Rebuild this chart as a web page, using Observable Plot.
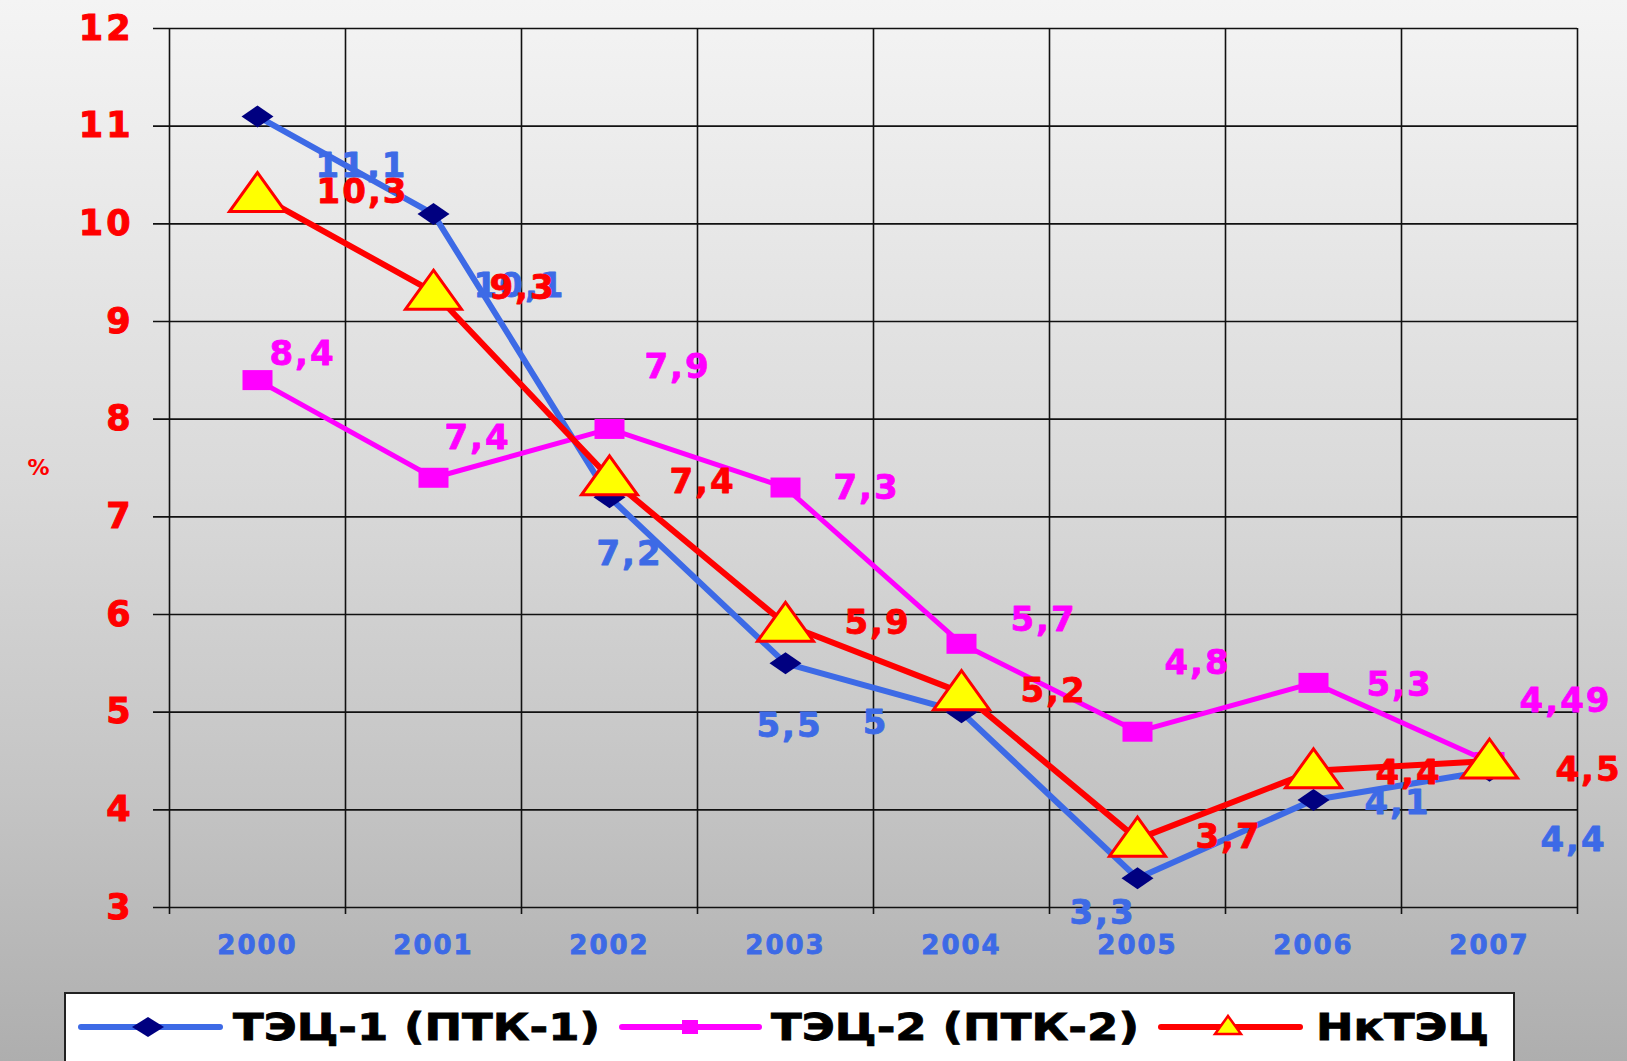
<!DOCTYPE html>
<html><head><meta charset="utf-8">
<script src="https://cdn.jsdelivr.net/npm/d3@7"></script>
<script src="https://cdn.jsdelivr.net/npm/@observablehq/plot@0.6"></script>
<style>
html,body{margin:0;padding:0;width:1627px;height:1061px;overflow:hidden;}
body{background:linear-gradient(to bottom,#f4f4f4 0%,#dadada 45%,#c4c4c4 75%,#aeaeae 100%);font-family:"DejaVu Sans",sans-serif;position:relative;}
#chart{position:absolute;left:0;top:0;}
#legend{position:absolute;left:0;top:0;}
#chart g[aria-label="y-axis tick label"] text{letter-spacing:3px;stroke:#ff0000;stroke-width:1px;paint-order:stroke;}
#chart g[aria-label="x-axis tick label"] text{letter-spacing:2px;stroke:#3d6ae6;stroke-width:0.8px;paint-order:stroke;}
#chart g[aria-label="text"] text{letter-spacing:2px;}
</style></head><body>
<div id="chart"></div>
<svg id="legend" width="1627" height="1061"></svg>
<script>
// ---- data ----
const years = [2000, 2001, 2002, 2003, 2004, 2005, 2006, 2007];
const tec1 = [11.1, 10.1, 7.2, 5.5, 5.0, 3.3, 4.1, 4.4];
const tec2 = [8.4, 7.4, 7.9, 7.3, 5.7, 4.8, 5.3, 4.49];
const nktec = [10.3, 9.3, 7.4, 5.9, 5.2, 3.7, 4.4, 4.5];
const seriesNames = ["ТЭЦ-1 (ПТК-1)", "ТЭЦ-2 (ПТК-2)", "НкТЭЦ"];
const yTicks = [3, 4, 5, 6, 7, 8, 9, 10, 11, 12];
const yUnit = "%";

// ---- label layout (pixel offsets of data labels) ----
const tec1LabelOffsets = [[104,50],[86,72],[20,57],[4,63],[-86,11],[-35,35],[84,3],[84,69]];
const tec2LabelOffsets = [[45,-26],[44,-40],[68,-62],[81,1],[82,-24],[60,-69],[86,2],[76,-61]];
const nktecLabelOffsets = [[105,-2],[89,-4],[93,4],[92,-1],[92,-2],[91,-2],[95,2],[99,9]];

// ---- styles ----
const BLUE = "#3d6ae6", NAVY = "#000080", MAGENTA = "#ff00ff", RED = "#ff0000", YELLOW = "#ffff00";
const FONT = "DejaVu Sans";

const wideDiamond = {draw(c, s){const r=Math.sqrt(s/Math.PI); c.moveTo(-1.6*r,0); c.lineTo(0,-1.1*r); c.lineTo(1.6*r,0); c.lineTo(0,1.1*r); c.closePath();}};
const wideSquare = {draw(c, s){const r=Math.sqrt(s/Math.PI); c.moveTo(-1.5*r,-r); c.lineTo(1.5*r,-r); c.lineTo(1.5*r,r); c.lineTo(-1.5*r,r); c.closePath();}};
const wideTriangle = {draw(c, s){const r=Math.sqrt(s/Math.PI); c.moveTo(0,-2.2*r); c.lineTo(2.8*r,1.7*r); c.lineTo(-2.8*r,1.7*r); c.closePath();}};

const fmt = v => String(v).replace(".", ",");
const rows = vals => years.map((yr, i) => ({year: yr, value: vals[i], i}));
const boundaries = years.map(y => y - 0.5).concat([years[years.length-1] + 0.5]);

function labels(vals, offsets, color) {
  return rows(vals).map(d => Plot.text([d], {
    x: "year", y: "value", text: r => fmt(r.value),
    dx: offsets[d.i][0], dy: offsets[d.i][1],
    fill: color, stroke: color, strokeWidth: 0.8, paintOrder: "stroke",
    fontSize: 34, fontWeight: "bold", fontFamily: FONT, textAnchor: "middle"
  }));
}

const chart = Plot.plot({
  width: 1627, height: 990,
  marginLeft: 169, marginRight: 50, marginTop: 28, marginBottom: 83,
  style: {background: "transparent", fontFamily: FONT, overflow: "visible"},
  x: {domain: [boundaries[0], boundaries[boundaries.length-1]]},
  y: {domain: [yTicks[0], yTicks[yTicks.length-1]]},
  marks: [
    Plot.ruleY(yTicks, {stroke: "#111", strokeWidth: 1.6, insetLeft: -16}),
    Plot.ruleX(boundaries, {stroke: "#111", strokeWidth: 1.6, insetBottom: -7}),
    Plot.axisY({ticks: yTicks, tickSize: 0, tickPadding: 36, fontSize: 35, fontWeight: "bold", color: RED, fill: RED, label: null}),
    Plot.axisX({ticks: years, tickFormat: d => String(d), tickSize: 0, tickPadding: 28, fontSize: 26, fontWeight: "bold", color: BLUE, fill: BLUE, label: null}),
    Plot.text([yUnit], {frameAnchor: "left", dx: -142, fill: RED, fontSize: 22, fontWeight: "bold"}),
    Plot.line(rows(tec1), {x: "year", y: "value", stroke: BLUE, strokeWidth: 6}),
    Plot.dot(rows(tec1), {x: "year", y: "value", symbol: wideDiamond, r: 10, fill: NAVY, stroke: "none"}),
    Plot.line(rows(tec2), {x: "year", y: "value", stroke: MAGENTA, strokeWidth: 5}),
    Plot.dot(rows(tec2), {x: "year", y: "value", symbol: wideSquare, r: 10, fill: MAGENTA, stroke: "none"}),
    Plot.line(rows(nktec), {x: "year", y: "value", stroke: RED, strokeWidth: 6}),
    Plot.dot(rows(nktec), {x: "year", y: "value", symbol: wideTriangle, r: 10, fill: YELLOW, stroke: RED, strokeWidth: 3}),
    ...labels(tec1, tec1LabelOffsets, BLUE),
    ...labels(tec2, tec2LabelOffsets, MAGENTA),
    ...labels(nktec, nktecLabelOffsets, RED)
  ]
});
document.getElementById("chart").appendChild(chart);

// ---- legend ----
const lg = d3.select("#legend");
lg.append("rect").attr("x", 65).attr("y", 993).attr("width", 1449).attr("height", 100)
  .attr("fill", "#fff").attr("stroke", "#222").attr("stroke-width", 2);
const items = [
  {name: seriesNames[0], color: BLUE, x1: 81, x2: 220, mx: 148, tx: 233, tw: 367, kind: "diamond"},
  {name: seriesNames[1], color: MAGENTA, x1: 622, x2: 759, mx: 690, tx: 771, tw: 368, kind: "square"},
  {name: seriesNames[2], color: RED, x1: 1161, x2: 1300, mx: 1228, tx: 1316, tw: 173, kind: "triangle"}
];
const ly = 1027;
items.forEach(it => {
  lg.append("line").attr("x1", it.x1).attr("x2", it.x2).attr("y1", ly).attr("y2", ly)
    .attr("stroke", it.color).attr("stroke-width", 6).attr("stroke-linecap", "round");
  if (it.kind === "diamond") {
    lg.append("path").attr("d", `M${it.mx-16},${ly}L${it.mx},${ly-10}L${it.mx+16},${ly}L${it.mx},${ly+10}Z`).attr("fill", NAVY);
  } else if (it.kind === "square") {
    lg.append("rect").attr("x", it.mx-8).attr("y", ly-7).attr("width", 16).attr("height", 14).attr("fill", MAGENTA);
  } else {
    lg.append("path").attr("d", `M${it.mx},${ly-11}L${it.mx+13},${ly+7}L${it.mx-13},${ly+7}Z`).attr("fill", YELLOW).attr("stroke", RED).attr("stroke-width", 2.5);
  }
  lg.append("text").attr("x", it.tx).attr("y", 1040).text(it.name)
    .attr("font-family", FONT).attr("font-weight", "bold").attr("font-size", 37).attr("fill", "#000")
    .attr("stroke", "#000").attr("stroke-width", 0.8).attr("paint-order", "stroke")
    .attr("textLength", it.tw).attr("lengthAdjust", "spacingAndGlyphs");
});
</script>
</body></html>
